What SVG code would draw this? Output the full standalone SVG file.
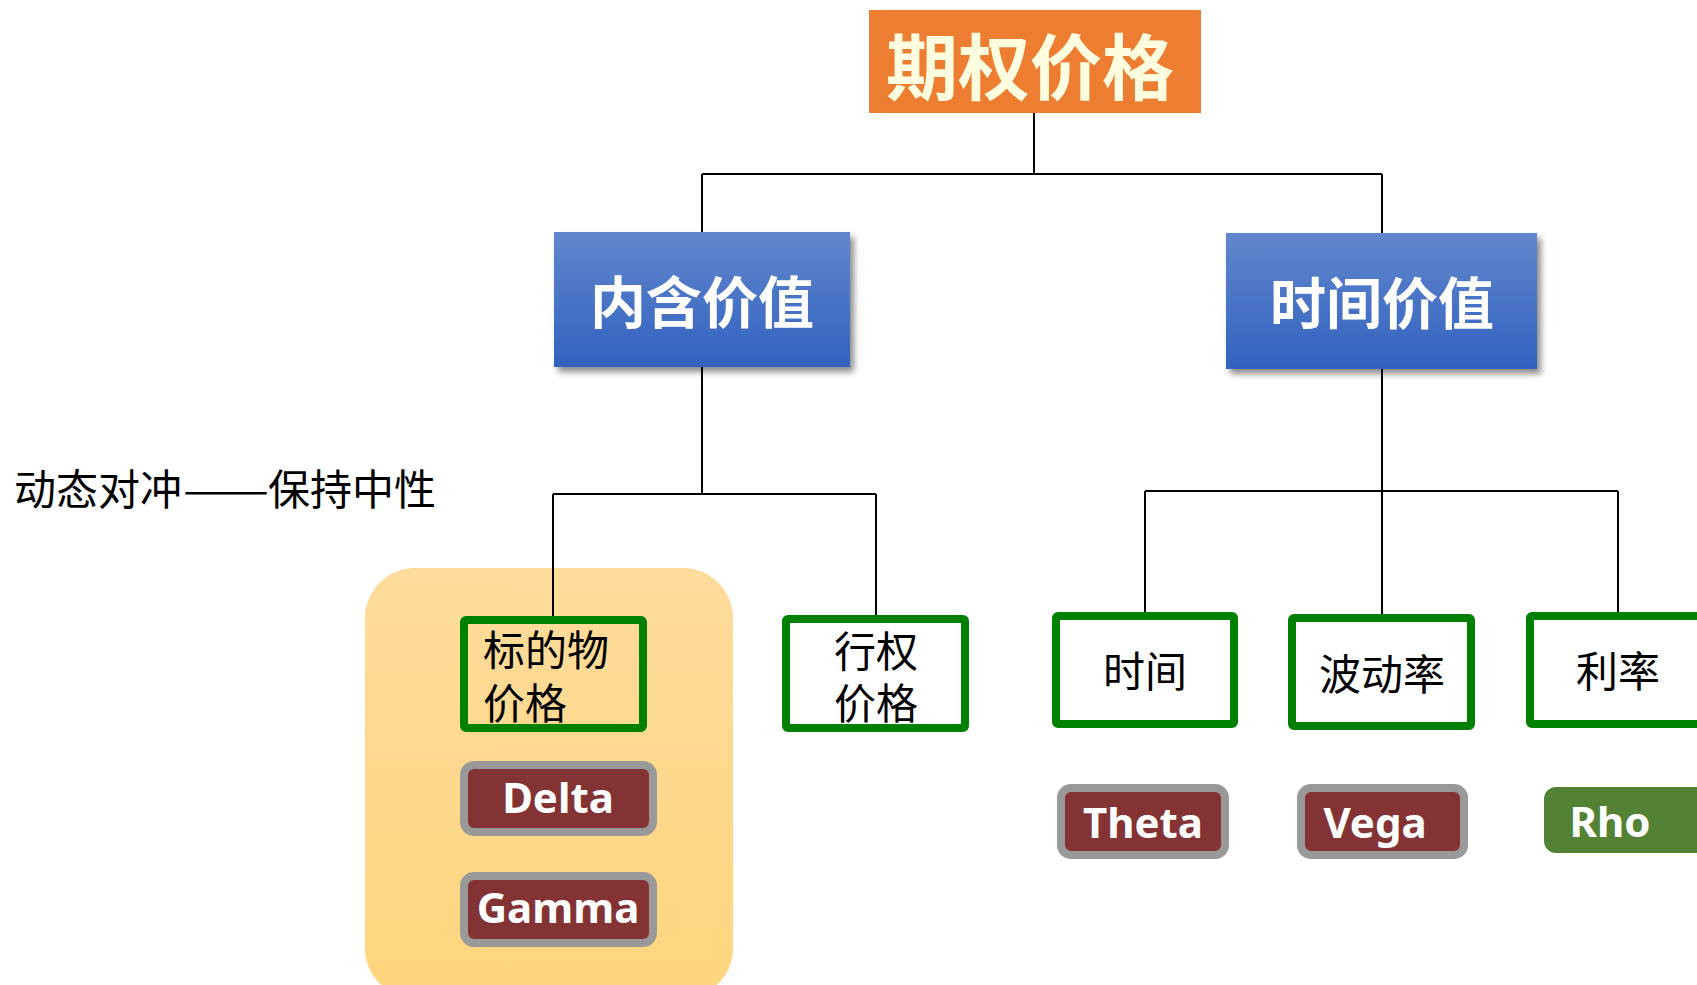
<svg xmlns="http://www.w3.org/2000/svg" width="1697" height="985" viewBox="0 0 1697 985">
<defs>
<linearGradient id="blueG" x1="0" y1="0" x2="0" y2="1">
<stop offset="0" stop-color="#6286CD"/>
<stop offset="1" stop-color="#3162BF"/>
</linearGradient>
<linearGradient id="yelG" x1="0" y1="0" x2="0" y2="1">
<stop offset="0" stop-color="#FDDC9C"/>
<stop offset="1" stop-color="#FFD57E"/>
</linearGradient>
<filter id="sh" x="-10%" y="-10%" width="125%" height="130%">
<feDropShadow dx="4" dy="5" stdDeviation="3" flood-color="#000" flood-opacity="0.45"/>
</filter>
</defs>
<style>
.cjk{font-family:"Noto Sans CJK SC","Noto Sans",sans-serif;}
.title{font-weight:bold;fill:#FFFFFF;text-anchor:middle;dominant-baseline:central;}
.green{fill:#FFFFFF;stroke:#008000;stroke-width:8;}
.lbl{font-size:42px;fill:#000;dominant-baseline:central;}
.greek{fill:#833333;stroke:#999999;stroke-width:8;}
.gtxt{font-family:"Noto Sans","Open Sans",sans-serif;font-weight:bold;font-size:42px;fill:#FFFFFF;text-anchor:middle;}
.conn{fill:none;stroke:#000;stroke-width:2;}
</style>
<rect id="highlight" x="365" y="568" width="368" height="430" rx="50" fill="url(#yelG)"/>
<g id="connectors">
<path class="conn" d="M1034 113 V174 M702 174 H1382 M702 174 V232 M1382 174 V233"/>
<path class="conn" d="M702 367 V494 M553 494 H876 M553 494 V618 M876 494 V617"/>
<path class="conn" d="M1382 369 V491 M1145 491 H1618 M1145 491 V614 M1382 491 V616 M1618 491 V614"/>
</g>
<g id="n_option_price">
<rect x="869" y="10" width="332" height="103" fill="#ED7D31"/>
<text class="cjk title" x="1030" y="62" font-size="72" style="fill:#FFFDE0">期权价格</text>
</g>
<g id="n_intrinsic">
<rect x="554" y="232" width="296" height="135" fill="url(#blueG)" filter="url(#sh)"/>
<text class="cjk title" x="702" y="298" font-size="56">内含价值</text>
</g>
<g id="n_time_value">
<rect x="1226" y="233" width="311" height="136" fill="url(#blueG)" filter="url(#sh)"/>
<text class="cjk title" x="1382" y="299" font-size="56">时间价值</text>
</g>
<g id="n_underlying">
<rect x="464" y="620" width="179" height="108" rx="2" fill="none" stroke="#008000" stroke-width="8"/>
<text class="cjk lbl" x="483" y="647">标的物<tspan x="483" y="700">价格</tspan></text>
</g>
<g id="n_strike">
<rect class="green" x="786" y="619" width="179" height="109" rx="2"/>
<text class="cjk lbl" x="876" y="648" text-anchor="middle">行权<tspan x="876" y="700">价格</tspan></text>
</g>
<g id="n_time">
<rect class="green" x="1056" y="616" width="178" height="108" rx="2"/>
<text class="cjk lbl" x="1145" y="668" text-anchor="middle">时间</text>
</g>
<g id="n_vol">
<rect class="green" x="1292" y="618" width="179" height="108" rx="2"/>
<text class="cjk lbl" x="1382" y="671" text-anchor="middle">波动率</text>
</g>
<g id="n_rate">
<rect class="green" x="1530" y="616" width="179" height="108" rx="2"/>
<text class="cjk lbl" x="1618" y="668" text-anchor="middle">利率</text>
</g>
<g id="n_delta">
<rect class="greek" x="464" y="765" width="189" height="67" rx="10"/>
<text class="gtxt" x="558" y="813">Delta</text>
</g>
<g id="n_gamma">
<rect class="greek" x="464" y="876" width="189" height="67" rx="10"/>
<text class="gtxt" x="558" y="923">Gamma</text>
</g>
<g id="n_theta">
<rect class="greek" x="1061" y="788" width="164" height="67" rx="10"/>
<text class="gtxt" x="1143" y="838">Theta</text>
</g>
<g id="n_vega">
<rect class="greek" x="1301" y="788" width="163" height="67" rx="10"/>
<text class="gtxt" x="1375" y="838">Vega</text>
</g>
<g id="n_rho">
<rect x="1544" y="787" width="180" height="66" rx="12" fill="#548235"/>
<text class="gtxt" x="1610" y="837">Rho</text>
</g>
<g id="n_note">
<text class="cjk" x="14" y="486" font-size="42" dominant-baseline="central" fill="#000">动态对冲<tspan x="183" textLength="86" lengthAdjust="spacingAndGlyphs">——</tspan><tspan x="268">保持中性</tspan></text>
</g>
</svg>
